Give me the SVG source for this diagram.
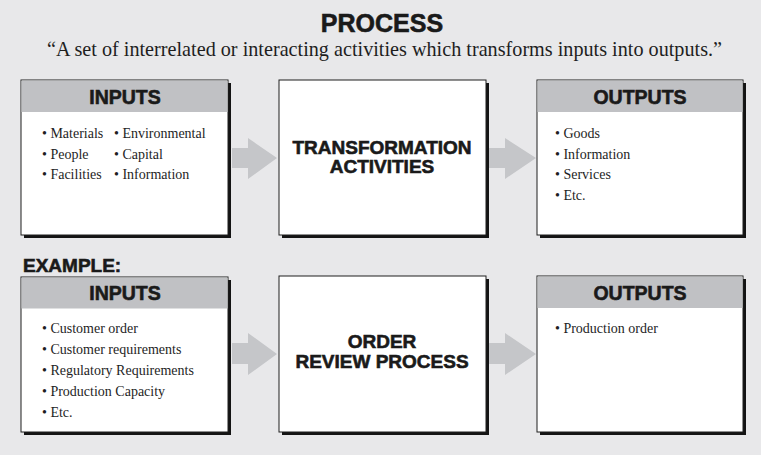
<svg xmlns="http://www.w3.org/2000/svg" width="761" height="455" viewBox="0 0 761 455">
<style>
.bg{fill:#e8e8ea}
.shadow{fill:#141414}
.box{fill:#ffffff;stroke:#1e1e1e;stroke-width:1}
.hdr{fill:#c0c1c4}
.heavy{font-family:"Liberation Sans",Arial,sans-serif;font-weight:bold;fill:#1a1a1a;stroke:#1a1a1a;stroke-width:0.6;text-anchor:middle}
.item{font-family:"Liberation Serif","Times New Roman",serif;font-size:14px;fill:#1e1e1e}
.arrow{fill:#c5c6c9}
</style>
<rect class="bg" x="0" y="0" width="761" height="455"/>
<text class="heavy" x="382" y="32" font-size="25">PROCESS</text>
<text transform="translate(47,56) scale(0.918,1)" x="0" y="0" font-family="'Liberation Serif','Times New Roman',serif" font-size="22" fill="#1e1e1e">“A set of interrelated or interacting activities which transforms inputs into outputs.”</text>
<text class="heavy" x="23" y="272" font-size="19" style="text-anchor:start">EXAMPLE:</text>

<g id="inputs-top">
<rect class="shadow" x="24" y="83" width="207" height="155"/>
<rect class="box" x="21" y="80" width="207" height="155"/>
<rect class="hdr" x="21.5" y="80.5" width="206" height="31.5"/>
<text class="heavy" x="125" y="104" font-size="19.5">INPUTS</text>
<text class="item" x="42" y="138">• Materials</text>
<text class="item" x="42" y="158.5">• People</text>
<text class="item" x="42" y="179">• Facilities</text>
<text class="item" x="114" y="138">• Environmental</text>
<text class="item" x="114" y="158.5">• Capital</text>
<text class="item" x="114" y="179">• Information</text>
</g>

<g id="transformation">
<rect class="shadow" x="282" y="83" width="207" height="155"/>
<rect class="box" x="279" y="80" width="207" height="155"/>
<text class="heavy" x="382" y="154" font-size="19">TRANSFORMATION</text>
<text class="heavy" x="382" y="173" font-size="19">ACTIVITIES</text>
</g>

<g id="outputs-top">
<rect class="shadow" x="540" y="83" width="206" height="155"/>
<rect class="box" x="537" y="80" width="206" height="155"/>
<rect class="hdr" x="537.5" y="80.5" width="205" height="31.5"/>
<text class="heavy" x="640" y="104" font-size="19.5">OUTPUTS</text>
<text class="item" x="555" y="138">• Goods</text>
<text class="item" x="555" y="158.5">• Information</text>
<text class="item" x="555" y="179">• Services</text>
<text class="item" x="555" y="199.5">• Etc.</text>
</g>

<g id="inputs-example">
<rect class="shadow" x="24" y="280" width="207" height="155"/>
<rect class="box" x="21" y="277" width="207" height="155"/>
<rect class="hdr" x="21.5" y="277.5" width="206" height="31"/>
<text class="heavy" x="125" y="300" font-size="19.5">INPUTS</text>
<text class="item" x="42" y="333">• Customer order</text>
<text class="item" x="42" y="354">• Customer requirements</text>
<text class="item" x="42" y="375">• Regulatory Requirements</text>
<text class="item" x="42" y="396">• Production Capacity</text>
<text class="item" x="42" y="417">• Etc.</text>
</g>

<g id="order-review">
<rect class="shadow" x="282" y="279" width="207" height="156"/>
<rect class="box" x="279" y="276" width="207" height="156"/>
<text class="heavy" x="382" y="348" font-size="19">ORDER</text>
<text class="heavy" x="382" y="368" font-size="19">REVIEW PROCESS</text>
</g>

<g id="outputs-example">
<rect class="shadow" x="540" y="279" width="206" height="156"/>
<rect class="box" x="537" y="276" width="206" height="156"/>
<rect class="hdr" x="537.5" y="276.5" width="205" height="31.5"/>
<text class="heavy" x="640" y="300" font-size="19.5">OUTPUTS</text>
<text class="item" x="555" y="333">• Production order</text>
</g>

<g id="connectors">
<polygon class="arrow" points="232,148 248,148 248,138 277,158 248,179 248,168 232,168"/>
<polygon class="arrow" points="489,148 505,148 505,138 536,158 505,179 505,168 489,168"/>
<polygon class="arrow" points="232,343 248,343 248,333 277,354 248,375 248,364 232,364"/>
<polygon class="arrow" points="489,343 505,343 505,333 536,354 505,375 505,364 489,364"/>
</g>
</svg>
